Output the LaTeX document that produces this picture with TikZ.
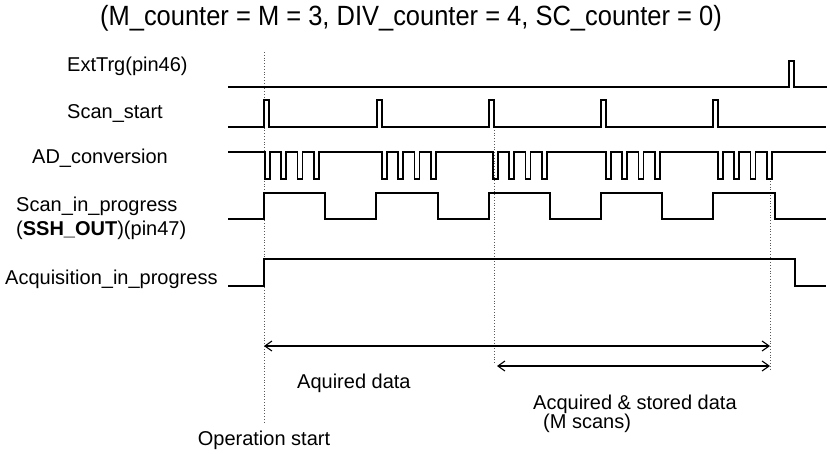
\documentclass[tikz,border=0pt]{standalone}
\usepackage{fontspec}
\setmainfont{Liberation Sans}
\usetikzlibrary{arrows.meta}
\begin{document}
\begin{tikzpicture}[x=1pt,y=-1pt,
  sig/.style={line width=1.2pt,line join=miter},
  guide/.style={gray!70!black,line width=0.8pt,dotted},
  span/.style={line width=1.1pt,{Straight Barb[length=7pt,width=10pt]}-{Straight Barb[length=7pt,width=10pt]}},
  lbl/.style={anchor=base west,inner sep=0pt,font=\fontsize{20}{22}\selectfont},
  note/.style={anchor=base west,inner sep=0pt,font=\fontsize{20}{22}\selectfont}]
\useasboundingbox (0,0) rectangle (830,453);

% title
\node[anchor=base,inner sep=0pt,font=\fontsize{26}{28}\selectfont] (title) at (411,25)
  {\scalebox{0.98}[1.07]{(M\_counter = M = 3, DIV\_counter = 4, SC\_counter = 0)}};

% signal names
\node[lbl] (lext)  at (67,71.5)  {ExtTrg(pin46)};
\node[lbl] (lscan) at (67,118)   {Scan\_start};
\node[lbl] (lad)   at (32,163.3) {AD\_conversion};
\node[lbl] (lsip)  at (16,211.7) {Scan\_in\_progress};
\node[lbl] (lssh)  at (16,235)   {(\textbf{SSH\_OUT})(pin47)};
\node[lbl] (lacq)  at (5,284.3)  {Acquisition\_in\_progress};

% guide lines
\coordinate (opTop) at (264,52);
\coordinate (opBot) at (264,422);
\coordinate (stTop) at (494,127);
\coordinate (stBot) at (494,364);
\coordinate (enTop) at (770,181);
\coordinate (enBot) at (770,370);
\draw[guide] (opTop) -- (opBot);
\draw[guide] (stTop) -- (stBot);
\draw[guide] (enTop) -- (enBot);

% ExtTrg
\draw[sig] (228,87) -- (789,87) -- (789,61) -- (794,61) -- (794,87) -- (827,87);

% Scan_start
\draw[sig] (228,127)
  \foreach \p in {264,377,489,601,713} { -- (\p,127) -- (\p,100) -- (\p+5,100) -- (\p+5,127) }
  -- (826,127);

% AD_conversion
\draw[sig] (228,152)
  \foreach \g in {265,382,493,606,718} {
    \foreach \o in {0,16,32.5,49} { -- (\g+\o,152) -- (\g+\o,179) -- (\g+\o+5,179) -- (\g+\o+5,152) } }
  -- (826,152);

% Scan_in_progress
\draw[sig] (228,219) -- (264,219)
  \foreach \a/\b in {264/325,376/438,489/550,601/662,713/775} { -- (\a,219) -- (\a,193) -- (\b,193) -- (\b,219) }
  -- (826,219);

% Acquisition_in_progress
\draw[sig] (228,286) -- (264,286) -- (264,259) -- (795,259) -- (795,286) -- (826,286);

% data spans
\coordinate (a1) at (264,346);
\coordinate (a2) at (770,346);
\coordinate (b1) at (497,366);
\coordinate (b2) at (770,366);
\draw[span] (a1) -- (a2);
\draw[span] (b1) -- (b2);

\node[note] (tAq)  at (297,388) {Aquired data};
\node[note] (tAcq) at (533,409) {Acquired \& stored data};
\node[note] (tM)   at (543,428) {(M scans)};
\node[note,anchor=base] (tOp) at (264,445) {Operation start};
\end{tikzpicture}
\end{document}
